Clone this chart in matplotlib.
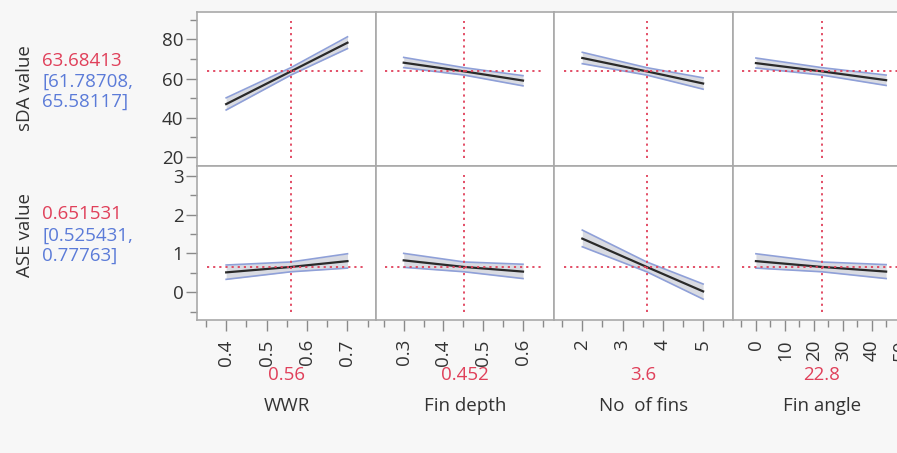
import matplotlib
matplotlib.use("Agg")
import matplotlib.pyplot as plt
import numpy as np
from matplotlib.ticker import MultipleLocator

plt.rcParams['font.family'] = ['Open Sans', 'DejaVu Sans']

# factors (columns)
factors = ["WWR", "Fin depth", "No  of fins", "Fin angle"]
current = [0.56, 0.452, 3.6, 22.8]
current_txt = ["0.56", "0.452", "3.6", "22.8"]
x_pts = [[0.4, 0.56, 0.7], [0.3, 0.452, 0.6], [2, 3.6, 5], [0, 22.8, 45]]
x_lims = [(0.3286, 0.770), (0.229, 0.678), (1.297, 5.73), (-8.1, 53.6)]
x_major = [0.1, 0.1, 1, 10]
x_minor = [0.05, 0.05, 0.5, 5]

# responses (rows)
responses = ["sDA value", "ASE value"]
resp_now = [63.68413, 0.651531]
resp_txt = [["63.68413", "[61.78708,", "65.58117]"], ["0.651531", "[0.525431,", "0.77763]"]]
y_lims = [(15.6, 94.1), (-0.71, 3.26)]
y_major = [20, 1]
y_minor = [10, 0.5]

# predicted value / lower / upper at start, current, end of each factor
sda_pred = [[47.0, 63.68, 78.3], [68.1, 63.68, 59.0], [70.5, 63.68, 57.5], [67.9, 63.68, 59.2]]
sda_low = [[44.0, 61.79, 75.3], [65.6, 61.79, 56.3], [67.6, 61.79, 54.6], [65.4, 61.79, 56.5]]
sda_up = [[50.2, 65.58, 81.3], [70.8, 65.58, 61.5], [73.4, 65.58, 60.4], [70.5, 65.58, 61.8]]

ase_pred = [[0.51, 0.65, 0.80], [0.82, 0.65, 0.53], [1.38, 0.65, 0.02], [0.80, 0.65, 0.53]]
ase_low = [[0.33, 0.525, 0.62], [0.64, 0.525, 0.35], [1.17, 0.525, -0.18], [0.62, 0.525, 0.35]]
ase_up = [[0.70, 0.778, 0.99], [1.00, 0.778, 0.72], [1.60, 0.778, 0.21], [0.99, 0.778, 0.71]]

preds = [sda_pred, ase_pred]
lows = [sda_low, ase_low]
ups = [sda_up, ase_up]

W, H = 897, 453
fig = plt.figure(figsize=(W / 100, H / 100), dpi=100, facecolor='#f7f7f7')

red = '#e0405a'
blue = '#5b7bd8'
txt_col = '#333333'
border = '#a9a9a9'

col_left = [197.3, 375.5, 554.0, 732.5]
col_w = 178.5
row_top = [11.7, 165.7]
row_h = 154.0

for r in range(2):
    for c in range(4):
        ax = fig.add_axes([col_left[c] / W, 1 - (row_top[r] + row_h) / H, col_w / W, row_h / H])
        ax.set_facecolor('white')
        for s in ax.spines.values():
            s.set_color(border)
            s.set_linewidth(1.2)
        ax.set_xlim(x_lims[c])
        ax.set_ylim(y_lims[r])

        xs = x_pts[c]
        ax.fill_between(xs, lows[r][c], ups[r][c], color='#d9dbe2', lw=0)
        ax.plot(xs, lows[r][c], color='#8fa0d8', lw=1.2)
        ax.plot(xs, ups[r][c], color='#8fa0d8', lw=1.2)
        ax.plot(xs, preds[r][c], color='#2a2a2a', lw=1.6)

        ax.axhline(resp_now[r], xmin=0.055, xmax=0.945, color=red, lw=1.3, ls=(0, (1.2, 2.2)))
        ax.axvline(current[c], ymin=0.05, ymax=0.94, color=red, lw=1.3, ls=(0, (1.2, 2.2)))

        ax.xaxis.set_major_locator(MultipleLocator(x_major[c]))
        ax.xaxis.set_minor_locator(MultipleLocator(x_minor[c]))
        ax.yaxis.set_major_locator(MultipleLocator(y_major[r]))
        ax.yaxis.set_minor_locator(MultipleLocator(y_minor[r]))
        ax.tick_params(which='both', color='#8a8a8a', labelcolor=txt_col, labelsize=13.5)
        ax.tick_params(which='major', length=8, width=1)
        ax.tick_params(which='minor', length=5, width=1)

        if c == 0:
            ax.tick_params(axis='y', which='both', left=True, labelleft=True, pad=2)
        else:
            ax.tick_params(axis='y', which='both', left=False, labelleft=False)

        if r == 1:
            ax.tick_params(axis='x', which='both', bottom=True, labelbottom=True, labelrotation=90, pad=6)
        else:
            ax.tick_params(axis='x', which='both', bottom=False, labelbottom=False)

# left response texts
for r in range(2):
    cy = [88, 235][r]
    fig.text(25 / W, 1 - cy / H, responses[r], rotation=90, ha='center', va='center',
             fontsize=13.5, color=txt_col)
    ys = [[61, 82, 102], [214, 236, 256]][r]
    cols = [red, blue, blue]
    for t, y, col in zip(resp_txt[r], ys, cols):
        fig.text(42 / W, 1 - y / H, t, ha='left', va='center', fontsize=13.5, color=col)

# bottom factor texts
for c in range(4):
    cx = col_left[c] + col_w / 2
    fig.text(cx / W, 1 - 375 / H, current_txt[c], ha='center', va='center', fontsize=13.5, color=red)
    fig.text(cx / W, 1 - 406 / H, factors[c], ha='center', va='center', fontsize=13.5, color=txt_col)

fig.savefig("out.png", dpi=100, facecolor=fig.get_facecolor())
